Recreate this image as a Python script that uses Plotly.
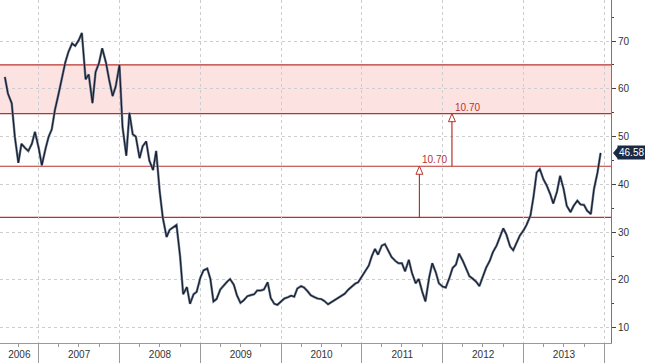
import pandas as pd
import plotly.graph_objects as go

# ---- data (semi-monthly closes) ----
start_date = "2006-08-01"
p2006 = [62.5, 59, 57, 50, 44.5, 48.5, 47.6, 47, 48.5, 51]
p2007 = [47.6, 44.0, 47.5, 50, 51.5, 55.5, 59, 62, 65.5, 67.7, 69.5, 69,
         70.2, 71.7, 62, 63, 57, 63.5, 65.5, 68.5, 65.5, 62, 58.5, 60.5]
p2008 = [65, 52, 46, 55, 50.5, 50, 45.5, 48, 49, 45, 43, 47,
         38.5, 33, 29, 30.5, 31, 31.5, 25, 17, 18.5, 15, 17, 17.5]
p2009 = [20.5, 22, 22.4, 20.2, 15.5, 16, 18, 18.8, 19.6, 20.2, 19, 16.8,
         15.2, 15.7, 16.6, 16.8, 17, 17.8, 17.8, 18, 19.5, 16.2, 15, 14.8]
p2010 = [15.6, 16.1, 16.4, 16.7, 16.5, 18.2, 18.7, 18.4, 17.6, 16.8, 16.4, 16.1,
         16, 15.6, 14.9, 15.3, 15.8, 16.2, 16.6, 17.1, 18, 18.5, 19.2, 19.5]
p2011 = [20.7, 21.8, 23, 25, 26.5, 25.3, 27.2, 27.5, 26, 24.8, 24, 23.5,
         23.5, 21.8, 24.2, 21.5, 19.3, 20.2, 17.5, 15.5, 20.5, 23.5, 21.6, 19.3]
p2012 = [18.6, 18.4, 20.5, 22.5, 23.2, 25.5, 24, 22.4, 20.8, 20.3, 19.6, 18.7,
         20.7, 22.5, 24, 25.8, 27.2, 28.8, 30.8, 29.5, 27, 26.2, 27.7, 29.3]
p2013 = [30.4, 31.6, 33.5, 37.5, 42.5, 43.2, 41, 39.8, 38, 36, 38.5, 41.8,
         39, 35.5, 34.2, 35.5, 36.6, 35.8, 35.7, 34.5, 33.8, 39, 42.5, 46.58]

last_price = 46.58
level_lines = [33.1, 43.8, 54.8, 65.0]
band_low, band_high = 54.8, 65.0
move_text = "10.70"
move_arrows = [("2011-09-18", 33.1, 43.8), ("2012-02-12", 43.8, 54.8)]
year_labels = ["2006", "2007", "2008", "2009", "2010", "2011", "2012", "2013"]
x_range = ["2006-07-10", "2014-01-31"]
y_range = [6.8, 78.6]

prices = p2006 + p2007 + p2008 + p2009 + p2010 + p2011 + p2012 + p2013
dates = pd.date_range(start_date, periods=len(prices), freq="SMS")

# year label positions: middle of the visible part of each year
lo, hi = pd.Timestamp(x_range[0]), pd.Timestamp(x_range[1])
label_pos = []
for yl in year_labels:
    a = max(pd.Timestamp(f"{yl}-01-01"), lo)
    b = min(pd.Timestamp(f"{int(yl) + 1}-01-01"), hi)
    label_pos.append(a + (b - a) / 2)

RED = "#b8322d"
GRID = "#cdcdcd"
FONT = "Liberation Sans, Arial, sans-serif"

fig = go.Figure()
fig.add_trace(go.Scatter(x=dates, y=prices, mode="lines",
                         line=dict(color="#6f7a8a", width=2.4),
                         hoverinfo="skip", showlegend=False))
fig.add_trace(go.Scatter(x=dates, y=prices, mode="lines",
                         line=dict(color="#121c33", width=1.1),
                         showlegend=False))
# invisible trace carrying the year-label axis
fig.add_trace(go.Scatter(x=[dates[0]], y=[prices[0]], xaxis="x2", mode="markers",
                         marker=dict(opacity=0), hoverinfo="skip", showlegend=False))

shapes = []
shapes.append(dict(type="rect", xref="paper", x0=0, x1=1, yref="y",
                   y0=band_low, y1=band_high, fillcolor="#fde2e2",
                   line=dict(width=0), layer="below"))
for lv in level_lines:
    shapes.append(dict(type="line", xref="paper", x0=0, x1=1, yref="y",
                       y0=lv, y1=lv, line=dict(color=RED, width=1.2),
                       layer="between"))
annotations = []
for d, y0, y1 in move_arrows:
    shapes.append(dict(type="line", xref="x", x0=d, x1=d, yref="y", y0=y0, y1=y1,
                       line=dict(color=RED, width=1.2)))
    shapes.append(dict(type="path", xref="x", xsizemode="pixel", xanchor=d,
                       yref="y", ysizemode="pixel", yanchor=y1,
                       path="M0,0 L-3.5,-8 L3.5,-8 Z",
                       fillcolor="white", line=dict(color=RED, width=1)))
    annotations.append(dict(x=d, y=y1, xref="x", yref="y", text=move_text,
                            showarrow=False, xanchor="left", yanchor="bottom",
                            xshift=1, yshift=-1,
                            font=dict(color=RED, size=10, family=FONT)))

# last price tag
annotations.append(dict(xref="paper", x=1, yref="y", y=last_price,
                        text=f"{last_price:.2f}", showarrow=False,
                        xanchor="left", xshift=6, bgcolor="#1b2a44",
                        borderpad=1, font=dict(color="white", size=10, family=FONT)))
shapes.append(dict(type="path", xref="paper", xsizemode="pixel", xanchor=1,
                   yref="y", ysizemode="pixel", yanchor=last_price,
                   path="M2,0 L7,6 L7,-6 Z", fillcolor="#1b2a44",
                   line=dict(width=0)))

fig.update_layout(
    width=645, height=363,
    margin=dict(l=0, r=34, t=0, b=20),
    paper_bgcolor="white", plot_bgcolor="white",
    font=dict(family=FONT, size=10, color="#333"),
    showlegend=False,
    shapes=shapes, annotations=annotations,
    xaxis=dict(type="date", range=x_range, tick0="2006-01-01", dtick="M12",
               ticks="outside", ticklen=20, tickcolor="#9a9a9a", tickwidth=1,
               showticklabels=False, showline=True, linecolor="#9a9a9a",
               showgrid=True, gridcolor=GRID, griddash="dot", zeroline=False,
               minor=dict(tick0="2006-01-01", dtick="M3", ticks="outside",
                          ticklen=3, tickcolor="#9a9a9a", showgrid=False)),
    xaxis2=dict(type="date", range=x_range, overlaying="x", anchor="y",
                tickmode="array", tickvals=label_pos, ticktext=year_labels,
                ticks="outside", ticklen=2,
                tickcolor="rgba(0,0,0,0)", showgrid=False, showline=False,
                zeroline=False, tickfont=dict(size=10, color="#333")),
    yaxis=dict(side="right", range=y_range, tick0=0, dtick=10,
               ticks="outside", ticklen=4, tickcolor="#444",
               showline=True, linecolor="#777", showgrid=True,
               gridcolor=GRID, griddash="dot", zeroline=False,
               tickfont=dict(size=10, color="#333"),
               minor=dict(dtick=5, ticks="outside", ticklen=2,
                          tickcolor="#444", showgrid=False)),
)

fig.write_html("out.html", config={"displayModeBar": False},
               post_script="document.body.style.margin='0';document.body.style.padding='0';")
